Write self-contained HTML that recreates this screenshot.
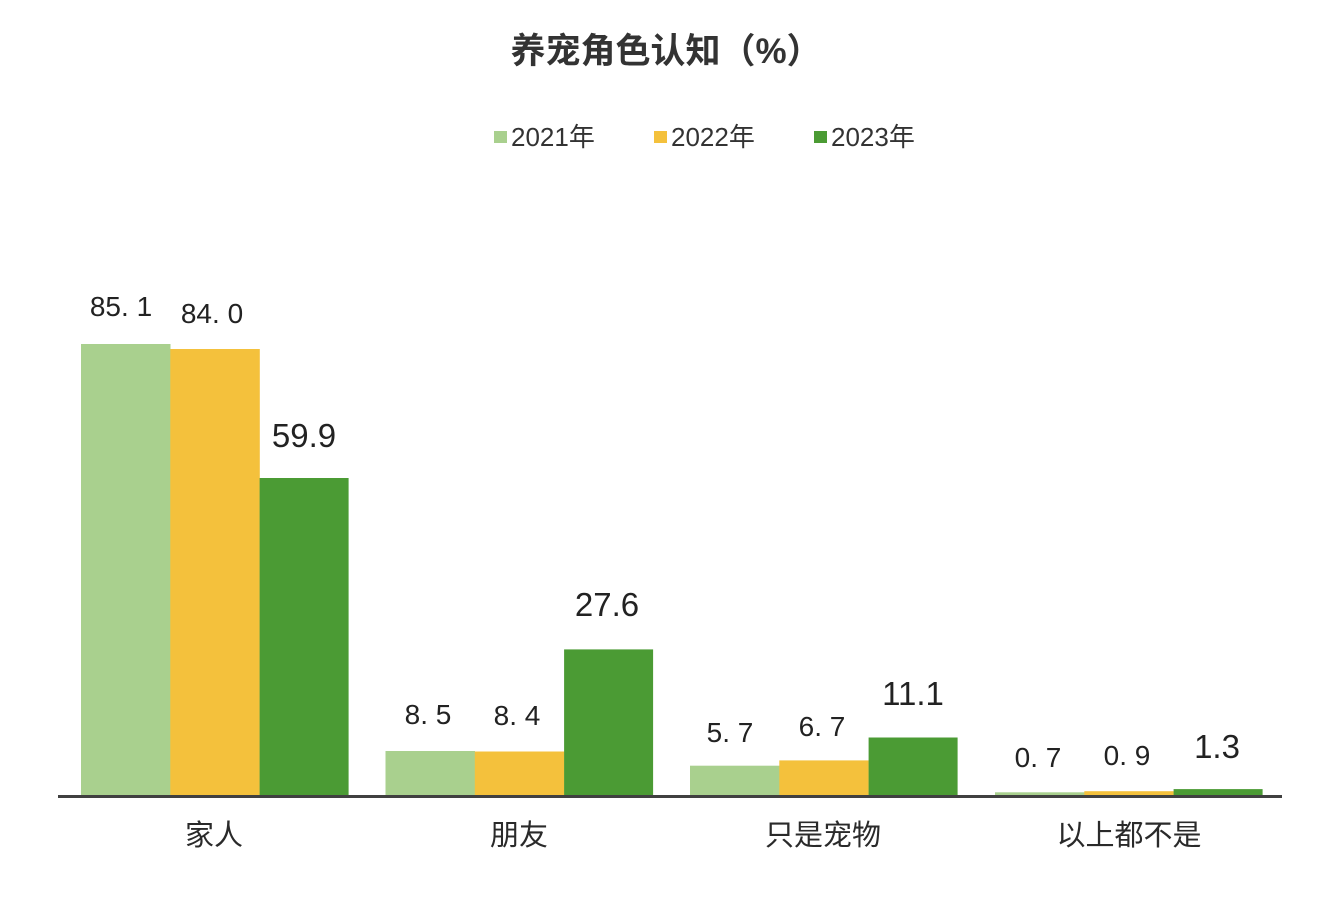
<!DOCTYPE html>
<html>
<head>
<meta charset="utf-8">
<style>
  html, body { margin: 0; padding: 0; background: #ffffff; }
  svg { display: block; }
  .cjk { font-family: "Liberation Sans", "Noto Sans CJK SC", sans-serif; }
  .num { font-family: "Liberation Sans", sans-serif; }
</style>
</head>
<body>
<svg width="1324" height="904" viewBox="0 0 1324 904" xmlns="http://www.w3.org/2000/svg">
  <rect x="0" y="0" width="1324" height="904" fill="#ffffff"/>

  <!-- Title -->
  <text class="cjk" x="666" y="63" text-anchor="middle" font-size="35" font-weight="bold" fill="#333333">养宠角色认知（%）</text>

  <!-- Legend -->
  <rect x="494" y="131" width="13" height="12" fill="#a9d08e"/>
  <text class="cjk" x="511" y="146" font-size="26" fill="#333333">2021年</text>
  <rect x="654" y="131" width="13" height="12" fill="#f4c13c"/>
  <text class="cjk" x="671" y="146" font-size="26" fill="#333333">2022年</text>
  <rect x="814" y="131" width="13" height="12" fill="#4b9b34"/>
  <text class="cjk" x="831" y="146" font-size="26" fill="#333333">2023年</text>

  <!-- Group 1: 家人 -->
  <rect x="81" y="344" width="89.5" height="452" fill="#a9d08e"/>
  <rect x="170.3" y="349" width="89.5" height="447" fill="#f4c13c"/>
  <rect x="259.6" y="478" width="89" height="318" fill="#4b9b34"/>

  <!-- Group 2: 朋友 -->
  <rect x="385.5" y="751" width="89.5" height="45" fill="#a9d08e"/>
  <rect x="474.8" y="751.5" width="89.5" height="44.5" fill="#f4c13c"/>
  <rect x="564.1" y="649.4" width="89" height="146.6" fill="#4b9b34"/>

  <!-- Group 3: 只是宠物 -->
  <rect x="690" y="765.7" width="89.5" height="30.3" fill="#a9d08e"/>
  <rect x="779.3" y="760.4" width="89.5" height="35.6" fill="#f4c13c"/>
  <rect x="868.6" y="737.5" width="89" height="58.5" fill="#4b9b34"/>

  <!-- Group 4: 以上都不是 -->
  <rect x="995" y="792.3" width="89.5" height="3.7" fill="#a9d08e"/>
  <rect x="1084.3" y="791.2" width="89.5" height="4.8" fill="#f4c13c"/>
  <rect x="1173.6" y="789.1" width="89" height="6.9" fill="#4b9b34"/>

  <!-- Axis line -->
  <rect x="58" y="795" width="1224" height="3" fill="#404040"/>

  <!-- Value labels -->
  <g class="num" fill="#222222" text-anchor="middle">
    <text x="121" y="316" font-size="28" xml:space="preserve">85. 1</text>
    <text x="212" y="323" font-size="28" xml:space="preserve">84. 0</text>
    <text x="304" y="447" font-size="33">59.9</text>

    <text x="428" y="724" font-size="28" xml:space="preserve">8. 5</text>
    <text x="517" y="725" font-size="28" xml:space="preserve">8. 4</text>
    <text x="607" y="616" font-size="33">27.6</text>

    <text x="730" y="742" font-size="28" xml:space="preserve">5. 7</text>
    <text x="822" y="736" font-size="28" xml:space="preserve">6. 7</text>
    <text x="913" y="705" font-size="33">11.1</text>

    <text x="1038" y="767" font-size="28" xml:space="preserve">0. 7</text>
    <text x="1127" y="765" font-size="28" xml:space="preserve">0. 9</text>
    <text x="1217" y="758" font-size="33">1.3</text>
  </g>

  <!-- Category labels -->
  <g class="cjk" fill="#2a2a2a" text-anchor="middle" font-size="29">
    <text x="214" y="845">家人</text>
    <text x="519" y="845">朋友</text>
    <text x="823" y="845">只是宠物</text>
    <text x="1129" y="845">以上都不是</text>
  </g>
</svg>
</body>
</html>
